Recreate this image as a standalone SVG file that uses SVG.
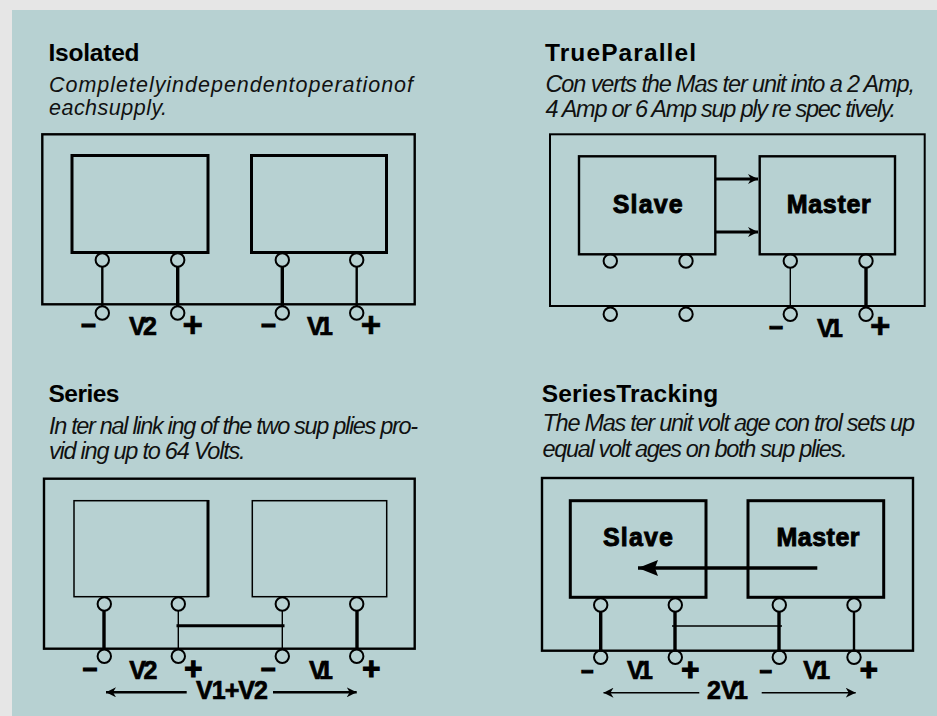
<svg xmlns="http://www.w3.org/2000/svg" width="937" height="716" viewBox="0 0 937 716">
<defs>
<style>
text{font-family:"Liberation Sans",Arial,sans-serif;fill:#000}
.h{font-weight:700;font-size:24.5px}
.d{font-style:italic;font-size:23.5px;fill:#111}
.t{font-size:21.5px}
.l{font-weight:700;font-size:25px;stroke:#000;stroke-width:.7;text-anchor:middle}
.n{font-weight:700;font-size:25px;stroke:#000;stroke-width:.9;text-anchor:middle}
.m{font-weight:700;font-size:24px;stroke:#000;stroke-width:1;text-anchor:middle}
.p{font-weight:700;font-size:35px;stroke:#000;stroke-width:.6;text-anchor:middle}
.q{font-size:31px;stroke-width:1.2}
rect,circle,line{stroke:#000;fill:none}
.o{stroke-width:2.4}
.b3{stroke-width:3}
.b2{stroke-width:2.4}
.b1{stroke-width:1.5}
circle{stroke-width:2;r:6.7px}
.w1{stroke-width:1.4}
.w2{stroke-width:2.4}
.w3{stroke-width:3.4}
</style>
<marker id="ah" markerUnits="userSpaceOnUse" markerWidth="12" markerHeight="10" refX="10" refY="5" orient="auto"><path d="M0 0L10 5L0 10L3 5Z" fill="#000"/></marker>
<marker id="big" markerUnits="userSpaceOnUse" markerWidth="21" markerHeight="18" refX="20" refY="9" orient="auto"><path d="M0 1L20 9L0 17L3 9Z" fill="#000"/></marker>
</defs>
<rect x="0" y="0" width="937" height="716" style="fill:#e6e6e6;stroke:none"/>
<rect x="12" y="10" width="925" height="706" style="fill:#b7d1d2;stroke:none"/>

<g id="isolated">
<text class="h" x="48.5" y="60.7" textLength="91">Isolated</text>
<text class="d t" x="49" y="91.7" textLength="364">Completelyindependentoperationof</text>
<text class="d t" x="49" y="115" textLength="118">eachsupply.</text>
<rect class="o" x="42.3" y="134.3" width="372.4" height="170"/>
<g id="isolated-left"><rect class="b3" x="72" y="155.5" width="136" height="97"/></g>
<g id="isolated-right"><rect class="b3" x="251.5" y="155.5" width="135" height="97"/></g>
<circle cx="102.3" cy="260"/><circle cx="177.7" cy="260"/><circle cx="282.3" cy="260"/><circle cx="356.7" cy="260"/>
<circle cx="102.3" cy="313"/><circle cx="177.7" cy="313"/><circle cx="282.3" cy="313"/><circle cx="356.7" cy="313"/>
<text class="m" transform="translate(88.5,331.7) scale(2,1)">-</text>
<text class="l" x="143" y="335" textLength="28">V2</text>
<text class="p" x="192.7" y="337">+</text>
<text class="m" transform="translate(268.5,331.7) scale(2,1)">-</text>
<text class="l" x="320" y="335" textLength="26">V1</text>
<text class="p" x="371" y="337">+</text>
</g>

<g id="true-parallel">
<text class="h" x="545" y="60.7" textLength="151">TrueParallel</text>
<text class="d" x="545.5" y="91.7" textLength="369.5">Con verts the Mas ter unit into a 2 Amp,</text>
<text class="d" x="545.5" y="117" textLength="350.5">4 Amp or 6 Amp sup ply re spec tively.</text>
<rect class="b1" x="550" y="134.3" width="374.7" height="171.7" style="stroke-width:2"/>
<g id="tp-slave"><rect class="b2" x="579" y="156.3" width="136.3" height="98"/><text class="n" x="647.7" y="212.7" textLength="70">Slave</text></g>
<g id="tp-master"><rect class="b2" x="759.7" y="156.3" width="135.3" height="98"/><text class="n" x="828.7" y="213" textLength="84">Master</text></g>
<circle cx="610.3" cy="261"/><circle cx="686" cy="261"/><circle cx="790.3" cy="261"/><circle cx="866" cy="261"/>
<circle cx="610.3" cy="314.3"/><circle cx="686" cy="314.3"/><circle cx="790.3" cy="314.3"/><circle cx="866" cy="314.3"/>
<text class="m" transform="translate(776,333.7) scale(1.9,1)">-</text>
<text class="l" x="830" y="337" textLength="26">V1</text>
<text class="p" x="880.3" y="338">+</text>
</g>

<g id="series">
<text class="h" x="48.5" y="402.3" textLength="71">Series</text>
<text class="d" x="49" y="433.7" textLength="369">In ter nal link ing of the two sup plies pro-</text>
<text class="d" x="49" y="459" textLength="196.5">vid ing up to 64 Volts.</text>
<rect class="o" x="44" y="478.7" width="370.7" height="170"/>
<g id="series-left"><rect class="b1" x="74" y="500.7" width="134" height="96"/><line x1="208" y1="500" x2="208" y2="597" class="b3"/></g>
<g id="series-right"><rect class="b1" x="252.3" y="500.7" width="134.4" height="96"/></g>
<circle cx="104.3" cy="604"/><circle cx="178.3" cy="604"/><circle cx="282.3" cy="604"/><circle cx="356.7" cy="604"/>
<circle cx="104.3" cy="656.3"/><circle cx="178.3" cy="656.3"/><circle cx="282.3" cy="656.3"/><circle cx="356.7" cy="656.3"/>
<text class="m" transform="translate(90,676.4) scale(2,1)">-</text>
<text class="l" x="143.3" y="679" textLength="28">V2</text>
<text class="p q" x="193.3" y="678.5">+</text>
<text class="m" transform="translate(268.3,676.4) scale(2,1)">-</text>
<text class="l" x="321" y="679" textLength="24">V1</text>
<text class="p q" x="371.3" y="678.5">+</text>
<text class="l" x="232" y="699" textLength="72">V1+V2</text>
</g>

<g id="series-tracking">
<text class="h" x="541.7" y="402.3" textLength="176.6">SeriesTracking</text>
<text class="d" x="542.5" y="430.7" textLength="372.5">The Mas ter unit volt age con trol sets up</text>
<text class="d" x="542.5" y="456.7" textLength="305">equal volt ages on both sup plies.</text>
<rect class="o" x="542" y="478" width="371" height="172.7"/>
<g id="st-slave"><rect class="b3" x="570.3" y="500.7" width="135.7" height="96.6"/><text class="n" x="638" y="546.3" textLength="70">Slave</text></g>
<g id="st-master"><rect class="b3" x="748" y="500.7" width="135.7" height="96.6"/><text class="n" x="818" y="545.7" textLength="83">Master</text></g>
<circle cx="600.7" cy="605"/><circle cx="675.3" cy="605"/><circle cx="779.3" cy="605"/><circle cx="854" cy="605"/>
<circle cx="600.7" cy="657.3"/><circle cx="675.3" cy="657.3"/><circle cx="779.3" cy="657.3"/><circle cx="854" cy="657.3"/>
<text class="m" transform="translate(587.3,678) scale(1.7,1)">-</text>
<text class="l" x="640" y="679" textLength="26">V1</text>
<text class="p q" x="690.3" y="679.5">+</text>
<text class="m" transform="translate(765.7,678) scale(1.7,1)">-</text>
<text class="l" x="816.7" y="679" textLength="27">V1</text>
<text class="p q" x="868.7" y="679.5">+</text>
<text class="l" x="727.5" y="699" textLength="41">2 V1</text>
</g>

<g id="connectors">
<line class="w2" x1="102.3" y1="266" x2="102.3" y2="307"/>
<line class="w3" x1="177.7" y1="266" x2="177.7" y2="307"/>
<line class="w3" x1="282.3" y1="266" x2="282.3" y2="307"/>
<line class="w2" x1="356.7" y1="266" x2="356.7" y2="307"/>
<line class="b3" x1="715" y1="179" x2="758" y2="179" marker-end="url(#ah)"/>
<line class="b3" x1="715" y1="232" x2="758" y2="232" marker-end="url(#ah)"/>
<line class="w1" x1="790.3" y1="267" x2="790.3" y2="308"/>
<line class="w3" x1="866" y1="267" x2="866" y2="308"/>
<line class="w3" x1="104" y1="610" x2="104" y2="650"/>
<line class="w1" x1="178.3" y1="610" x2="178.3" y2="650"/>
<line class="w1" x1="282.3" y1="610" x2="282.3" y2="650"/>
<line class="w3" x1="357" y1="610" x2="357" y2="650"/>
<line class="b3" x1="176.5" y1="625.7" x2="284.5" y2="625.7"/>
<line class="b2" x1="186.7" y1="692.3" x2="106" y2="692.3" marker-end="url(#ah)"/>
<line class="b2" x1="273" y1="692.3" x2="356.7" y2="692.3" marker-end="url(#ah)"/>
<line class="w3" x1="600.7" y1="611" x2="600.7" y2="651"/>
<line class="w3" x1="675" y1="611" x2="675" y2="651"/>
<line class="w3" x1="779" y1="611" x2="779" y2="651"/>
<line class="w2" x1="854" y1="611" x2="854" y2="651"/>
<line class="b1" x1="672" y1="626" x2="782" y2="626"/>
<line style="stroke-width:3.6" x1="817.3" y1="568" x2="638" y2="568" marker-end="url(#big)"/>
<line class="b1" x1="699.3" y1="692.7" x2="603.5" y2="692.7" marker-end="url(#ah)"/>
<line class="b1" x1="761.7" y1="692.7" x2="855.7" y2="692.7" marker-end="url(#ah)"/>
</g>
</svg>
